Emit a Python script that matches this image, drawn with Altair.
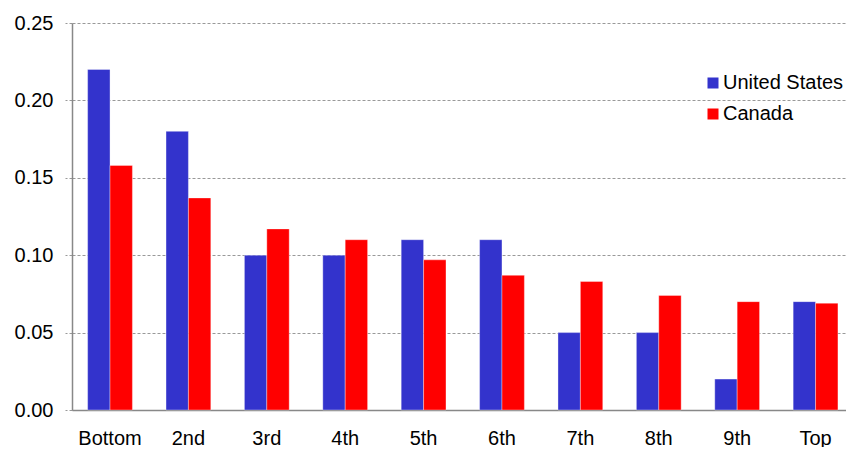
import altair as alt
import pandas as pd

categories = ["Bottom", "2nd", "3rd", "4th", "5th", "6th", "7th", "8th", "9th", "Top"]
us_values = [0.22, 0.18, 0.10, 0.10, 0.11, 0.11, 0.05, 0.05, 0.02, 0.07]
canada_values = [0.158, 0.137, 0.117, 0.110, 0.097, 0.087, 0.083, 0.074, 0.070, 0.069]
series = ["United States", "Canada"]
colors = ["#3333CC", "#FF0000"]

rows = []
for c, u, v in zip(categories, us_values, canada_values):
    rows.append({"cat": c, "country": series[0], "value": u})
    rows.append({"cat": c, "country": series[1], "value": v})
df = pd.DataFrame(rows)

font = "Liberation Sans"

chart = alt.Chart(df).mark_bar(strokeWidth=1, strokeOpacity=0.35, stroke="#ffffff").encode(
    x=alt.X("cat:N", sort=categories, title=None,
            scale=alt.Scale(paddingInner=0.4286, paddingOuter=0.151, align=0.66),
            axis=alt.Axis(labelAngle=0, labelFontSize=20, labelPadding=18, labelColor="#000000",
                          labelFont=font, ticks=False, domainColor="#888888", domainWidth=1.5)),
    xOffset=alt.XOffset("country:N", sort=series),
    y=alt.Y("value:Q", title=None,
            scale=alt.Scale(domain=[0, 0.25]),
            axis=alt.Axis(values=[0, 0.05, 0.10, 0.15, 0.20, 0.25], format=".2f",
                          labelFontSize=20, labelColor="#000000", labelFont=font, labelPadding=12,
                          tickSize=7, tickColor="#999999", tickDash=[3, 2],
                          grid=True, gridColor="#999999", gridDash=[3, 2], gridWidth=1,
                          domainColor="#888888", domainWidth=1.5)),
    color=alt.Color("country:N", sort=series,
                    scale=alt.Scale(domain=series, range=colors),
                    legend=alt.Legend(title=None, orient="none", legendX=631, legendY=50,
                                      symbolType="square", symbolSize=121, symbolStrokeWidth=0,
                                      labelFontSize=20, labelFont=font, labelColor="#000000",
                                      rowPadding=11, labelOffset=0, labelLimit=200)),
).properties(
    width=774, height=387,
    autosize=alt.AutoSizeParams(type="none"),
    padding={"left": 64, "top": 15, "right": 0, "bottom": 37},
).configure_view(stroke=None)

chart.save("out.html", embed_options={"renderer": "svg", "actions": False})
